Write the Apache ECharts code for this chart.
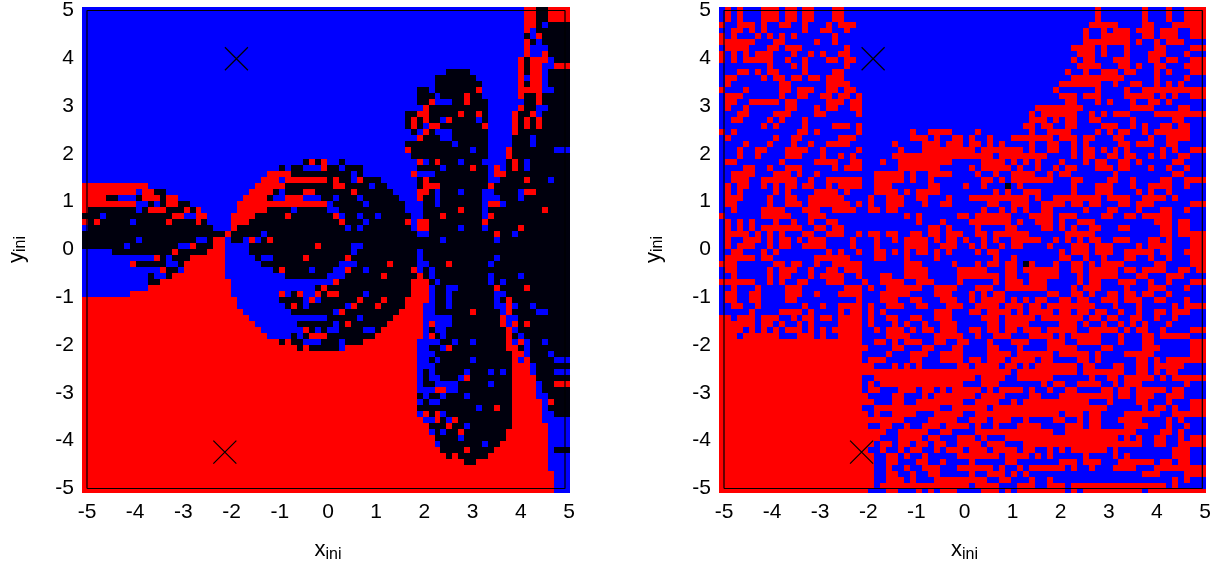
<!DOCTYPE html>
<html><head><meta charset="utf-8">
<script src="https://cdn.jsdelivr.net/npm/echarts@6/dist/echarts.min.js"></script>
<style>html,body{margin:0;padding:0;background:#fff}#c{width:1225px;height:569px}</style>
</head><body><div id="c"></div>
<script>
// Each row (top to bottom) lists colour runs: letter + starting column. B blue, R red, K black.
const leftRows = [
"B0 R74 K76 R78","B0 R74 K76 R78","B0 R74 K76 R78","B0 R74 K76 B77 K78","B0 R74 B75 K76",
"B0 K74 B75 R76 K77","B0 R74 K75 B76 K77","B0 R74 B75 K78","B0 R74 B75 R77 K78","B0 R73 K74 R75 B78 K79",
"B0 R73 K74 R75 B77 R79","B0 K61 B65 R73 K74 R75 B77 K78","B0 K59 B66 R73 B74 R75 B77 K78","B0 K59 B67 R73 K74 R75 B77 K78",
"B0 K56 B58 K59 R66 B67 R73 B77 K79","B0 K56 B59 K60 R64 K65 B67 R73 K74 R76 K77","B0 K56 R58 B59 K62 R64 K65 B68 K74 R76 K77",
"B0 R57 K58 B68 R73 K74 B76 K78","B0 K54 R56 K58 R63 K64 R66 K67 B68 R72 K73 R75 B76 K77",
"B0 K54 R55 K56 R57 K58 B60 R61 K62 B66 K67 B68 R72 K73 R74 K75 R76 K77",
"B0 K54 R55 K56 B57 R58 K60 R67 B68 R72 K73 R74 K75 R76 K77","B0 K55 B56 R57 K58 B59 K62 B68 R72 K73",
"B0 R56 K57 B60 K62 B68 K72 B75 K76","B0 K54 B62 K63 B68 K72 B75 K76","B0 R54 K55 B65 K66 B68 R71 K72 B79","B0 K55 B68 R71 K72",
"B0 K37 R38 K39 R40 B41 K43 B44 R56 B57 K58 R59 K60 B63 K64 B67 K71 R72 K73 B74 K75",
"B0 K33 B34 K35 B37 R40 K41 B43 K44 B47 K56 B60 K61 R65 K66 B68 R69 B70 K71 R72 K73 B74 K75",
"B0 R31 K35 B45 K46 B47 R55 B56 K59 B68 R69 K71","B0 R30 B33 R34 K41 R42 K43 B45 R46 K47 B50 K56 R57 K58 B68 K70 R74 K75 B78 K79",
"R0 B11 R29 K34 R42 K44 B48 K49 B51 K56 R57 K60 R68 K69",
"R0 B9 R10 K12 B14 R28 K32 B33 K34 R37 K39 R45 K46 B52 R56 K58 B59 K60 B63 K64 B67 K69 B73 R74 K76",
"R0 K4 B6 K9 R10 K13 R14 B16 R27 K31 B32 R34 B37 K40 B42 K43 B46 K47 B53 R56 K57 B59 K60 B67 K70 B73 K74",
"R0 B9 K11 B12 K13 R14 K16 B18 R26 B41 K42 B47 K48 B54 K57 B59 K60 B67 R68 B70 K71",
"R0 K1 B9 K10 R11 K14 R17 K18 R19 B20 R26 K31 B35 K36 B41 K43 B54 K57 R63 K64 B67 K68 R77 K78",
"K0 B3 K4 R15 B17 R19 B21 R25 K29 R34 K35 R42 B43 K44 B46 K47 B49 K50 B55 K57 R60 K61 B67 R68 K69",
"R0 K1 R2 K3 B8 K9 R14 K15 R19 K20 B21 R25 K28 R43 K44 B47 K48 R54 B55 R56 K58 R67 K68",
"B0 K1 B22 R25 K26 B44 K45 B46 K47 B55 R56 K58 B63 K64 B67 K68 R73 K74","K0 R24 K25 B30 K31 B56 K58 R69 K70 B72 K73",
"K0 B9 K10 B19 K21 R22 B24 K25 B27 R28 B29 K30 R31 K32 B60 K61 B69 K70","K0 B7 K8 B16 R18 K19 R22 B24 K28 R39 K40 B45 K47",
"B0 K5 R15 K16 R21 B24 K28 B45 K46 B56 K57","B0 R12 K13 B14 K15 R18 B24 K29 B30 K32 R37 K38 R44 K45 B56 K57 B69 K70",
"B0 R8 K9 B14 K16 R17 B24 K30 B43 K46 R51 K52 B56 K58 R61 K62 B68 K69",
"B0 R13 K14 B16 R17 B24 K32 R33 K34 B38 K39 B42 R44 K45 B47 K48 R55 B56 K57 B58 K59",
"B0 K11 B12 K14 R15 B24 K34 B41 K44 R50 K51 R56 K57 B58 K59 B68 K69 B73 K74","B0 K11 R13 B25 R42 K43 R55 K58 B59 K60 B68 K69 B70 K71",
"B0 R11 B25 K39 R40 K41 R55 B58 K59 B61 K63 R69 K70 R74 K75","B0 R8 B25 R33 B34 K35 R36 B37 R39 K40 R41 K43 B47 K48 R55 B58 K59 B61 K62 B69 K71",
"R0 B26 K33 B37 R38 B39 K40 R46 K47 R50 K51 R54 B58 K59 B61 K62 B69 K70 R71 K72",
"R0 B26 K34 R35 K36 B37 K38 B44 R45 K46 R49 K50 R54 B57 K59 B61 K62 B69 R71 B72 K73 B75 K76",
"R0 B27 K35 B42 R43 K44 R53 B57 K59 R65 K66 B70 R71 K72 B76 K78","R0 B28 K41 B46 K47 R52 B57 K62 R70 B71 K73",
"R0 B29 K36 B42 K43 R44 K45 R51 B57 R58 B59 K62 R70 B71 R72 K73 R74 K75","R0 B30 R37 K38 B39 K40 B41 K43 B47 K49 R50 B57 K58 B59 K61 R71 B72 K73",
"R0 B31 K35 B36 K37 R38 K41 R49 B57 R58 K59 B60 K61 R71 K72 B73 K74",
"R0 K33 R34 K35 B37 K40 B43 K44 R47 B56 K60 B62 K63 B65 K66 R71 B72 R73 B74 K75 B77 K78",
"R0 K36 R37 K38 B43 R44 B56 K58 B60 R61 K62 R71 K73 B74 K75","R0 B56 K59 R72 B74 K75 B78 K79",
"R0 B56 K58 B59 K60 B65 K66 R72 B73 R74 K75 B79","R0 B56 K59 R72 B75 K76","R0 B56 K57 B58 K59 B64 K65 B68 K69 B70 K71 R72 B75 K76 B79",
"R0 B56 K57 B58 K60 B63 R64 K65 R72 K76","R0 B56 K57 B59 K63 B68 K69 R72 B76 K77 R79","R0 B56 R59 B61 K63 R72 B76 K77",
"R0 K56 B57 K58 B60 K61 B64 K65 R72 B76 K78","R0 B56 K57 B58 K60 R72 B77 R78 K79","R0 K56 B66 K67 R69 K70 R72 B77 K78",
"R0 B56 R57 K58 R59 B60 K61 R72 B77 K79","R0 B57 R59 K60 B61 R62 K63 R72 B77","R0 K58 R61 K62 B64 K65 R72 B78",
"R0 B58 K59 B60 K61 R63 K64 R71 B78","R0 K59 B63 K64 R71 B78","R0 B59 K60 B67 K68 R70 B78","R0 K60 R64 K65 R69 B78 K79",
"R0 K61 R62 K63 R68 B78","R0 K64 R66 B78","R0 B78","R0 B79","R0 B79","R0 B79","R0 B79"
];
const rightRows = [
"B0 R1 B2 R3 B4 R7 B10 R11 B13 R14 B16 R19 B21 R63 B64 R71 B72 R75 B76 R78","B0 R1 B2 R3 B4 R7 B10 R11 B13 R14 B16 R19 B21 R63 B64 R71 B72 R75 B76 R78",
"B0 R1 B2 R3 B4 R7 B10 R11 B13 R14 B16 R19 B21 R63 B64 R71 B72 R75 B76 R78",
"R0 B1 R3 B6 R7 B8 R10 B12 R14 B15 R18 B19 R20 B23 R62 B67 R71 B73 R76",
"B0 R2 B4 R5 B6 R7 B8 R14 B15 R17 B19 R21 B22 R61 B62 R64 B65 R66 B69 R70 B73 R74 B77 R79",
"R0 B1 R2 B3 R6 B7 R8 B9 R10 B11 R12 B13 R19 B20 R61 B62 R64 B69 R71 B73 R74 B77 R79",
"R0 B6 R9 B11 R16 B17 R19 B20 R61 B69 R70 B71 R73 B74 R75 B78",
"B0 R1 B5 R8 B10 R11 B14 R21 B22 R59 B63 R64 B65 R68 B69 R73 B75 R79",
"R0 B1 R2 B3 R4 B5 R6 B9 R12 B13 R15 B16 R17 B18 R20 B22 R60 B63 R64 B65 R68 B69 R72 B75 R78 B79",
"R0 B1 R2 B3 R4 B9 R11 B12 R14 B15 R18 B20 R21 B23 R59 B60 R61 B63 R66 B69 R72 B74 R75 B77 R79",
"B0 R8 B9 R12 B13 R14 B15 R21 B22 R60 B64 R67 B69 R70 B71 R73 B75 R78",
"B0 R3 B5 R6 B7 R8 B10 R14 B15 R19 B21 R58 B59 R61 B62 R64 B67 R68 B70 R73 B74 R75 B76 R79",
"B0 R1 B3 R7 B8 R9 B11 R12 B14 R15 B17 R18 B21 R59 B68 R73 B74 R78 B79",
"B0 R1 B2 R10 B12 R18 B22 R57 B64 R66 B67 R69 B71 R73 B74 R75 B76 R77 B78",
"R0 B1 R4 B5 R10 B12 R13 B16 R18 B20 R21 B23 R56 B57 R63 B64 R68 B69 R71",
"B0 R1 B4 R10 B11 R13 B15 R17 B19 R20 B22 R23 B24 R57 B60 R61 B64 R68 B73 R74 B75 R76 B77 R79",
"B0 R1 B3 R5 B10 R11 B13 R18 B21 R22 B24 R58 B60 R63 B64 R65 B66 R69 B70 R72 B74 R75 B76",
"B0 R1 B2 R4 B5 R11 B13 R16 B17 R18 B20 R22 B24 R53 B61 R69 B73 R77 B79",
"B0 R3 B5 R9 B12 R16 B18 R23 B24 R52 B53 R54 B60 R62 B63 R64 B65 R66 B69 R73",
"B0 R2 B4 R8 B9 R10 B11 R14 B15 R52 B55 R56 B57 R58 B60 R62 B64 R69 B70 R76 B78",
"B0 R7 B8 R9 B10 R14 B15 R19 B22 R23 B24 R51 B53 R54 B56 R58 B60 R64 B67 R69 B70 R71 B72 R74 B76 R77 B79",
"R0 B1 R2 B3 R13 B15 R16 B17 R23 B24 R32 B33 R35 B39 R43 B44 R52 B53 R55 B59 R63 B64 R65 B66 R67 B69 R71 B72 R73 B79",
"B0 R1 B2 R9 B10 R12 B14 R20 B23 R32 B35 R36 B37 R39 B41 R42 B43 R45 B46 R49 B56 R57 B60 R61 B63 R66 B68 R72 B73 R75 B79",
"B0 R4 B5 R8 B9 R12 B13 R15 B16 R18 B22 R29 B30 R34 B37 R38 B41 R42 B44 R45 B46 R47 B48 R52 B53 R55 B57 R59 B60 R61 B62 R67 B69 R70 B73 R75 B77",
"B0 R3 B4 R6 B8 R11 B15 R17 B18 R23 B24 R30 B31 R34 B43 R44 B51 R52 B53 R55 B57 R59 B60 R61 B63 R64 B65 R66 B67 R68 B69 R74 B75 R76 B77 R79",
"B0 R3 B4 R6 B7 R11 B14 R17 B18 R20 B21 R22 B23 R29 B46 R47 B55 R59 B60 R61 B63 R65 B67 R68 B70 R72 B73 R74 B75 R77 B79",
"B0 R1 B3 R10 B11 R16 B20 R22 B24 R27 B28 R30 B39 R44 B48 R49 B50 R51 B52 R53 B54 R57 B58 R61 B62 R63 B65 R67 B69 R70 B71 R76 B78",
"B0 R4 B6 R8 B9 R11 B14 R19 B20 R21 B24 R30 B37 R42 B43 R44 B49 R50 B51 R53 B54 R56 B57 R58 B60 R63 B66 R67 B69 R72 B73 R75 B76 R78 B79",
"B0 R2 B6 R9 B12 R13 B14 R16 B17 R26 B31 R32 B33 R35 B39 R43 B44 R46 B47 R49 B53 R55 B56 R57 B59 R66 B67 R76 B78",
"B0 R2 B5 R7 B13 R15 B16 R18 B24 R26 B31 R32 B33 R35 B36 R44 B46 R47 B48 R49 B56 R59 B61 R65 B67 R69 B70 R74 B76 R78",
"B0 R1 B2 R3 B5 R7 B8 R9 B10 R11 B13 R14 B16 R18 B19 R20 B24 R26 B29 R35 B37 R41 B42 R44 B45 K48 B49 R50 B51 R59 B60 R63 B66 R69 B70 R72 B76 R78 B79",
"B0 R1 B2 R3 B4 R9 B10 R11 B12 R16 B20 R21 B22 R26 B30 R31 B32 R33 B37 R46 B47 R48 B49 R51 B54 R59 B60 R63 B66 R70 B71 R72 B73 R75 B76",
"B0 R1 B4 R8 B9 R11 B13 R15 B21 R25 B26 R28 B31 R33 B35 R38 B39 R42 B52 R53 B54 R56 B64 R65 B69 R71 B75 R76 B77",
"B0 R1 B3 R8 B9 R11 B14 R15 B22 R23 B24 R25 B26 R28 B31 R34 B35 R37 B39 R45 B47 R49 B52 R54 B58 R59 B61 R62 B64 R67 B69 R70 B73 R79",
"B0 R2 B3 R7 B11 R14 B17 R19 B23 R25 B27 R28 B30 R44 B45 R47 B48 R49 B50 R51 B52 R54 B56 R61 B62 R65 B67 R70 B71 R74 B76 R78 B79",
"R0 B1 R7 B12 R15 B18 R31 B32 R33 B34 R40 B42 R43 B49 R52 B56 R57 B60 R64 B66 R68 B70 R71 B76",
"B0 R1 B2 R3 B4 R5 B6 R9 B10 R12 B13 R15 B16 R18 B20 R33 B34 R37 B38 R42 B49 R50 B51 R53 B56 R57 B58 R60 B63 R73 B76 R77 B79",
"B0 R1 B2 R3 B4 R5 B6 R7 B14 R16 B18 R19 B21 R35 B37 R38 B39 R43 B44 R48 B50 R54 B56 R57 B58 R59 B60 R62 B64 R67 B69 R74 B76 R77 B79",
"B0 R1 B5 R6 B7 R8 B9 R10 B11 R14 B16 R18 B21 R23 B24 R25 B27 R28 B30 R32 B34 R35 B37 R38 B41 R43 B45 R46 B52 R58 B63 R74 B76 R77",
"B0 R1 B2 R4 B7 R8 B9 R10 B12 R13 B14 R15 B18 R22 B23 R26 B27 R29 B30 R31 B35 R36 B37 R38 B40 R41 B42 R44 B45 R46 B47 R49 B54 R56 B57 R58 B59 R60 B61 R62 B64 R66 B69 R72 B74 R75 B76 R79",
"B0 R1 B2 R3 B6 R8 B9 R10 B12 R14 B18 R22 B23 R26 B27 R31 B35 R37 B40 R42 B43 R44 B45 R47 B48 R49 B51 R55 B56 R59 B62 R63 B66 R70 B71 R72 B76 R79",
"B0 R2 B4 R7 B8 R9 B10 R18 B19 R20 B21 R23 B24 R26 B28 R29 B30 R31 B32 R33 B35 R36 B37 R38 B39 R43 B44 R45 B47 R57 B58 R59 B62 R63 B66 R68 B73 R74 B76 R78",
"B0 R1 B6 R7 B9 R16 B22 R26 B28 R31 B32 R36 B37 R46 B47 R49 B50 R57 B59 R61 B62 R64 B65 R68 B70 R72 B73 R75 B76 R79",
"R0 B3 R9 B11 R12 B14 R16 B17 R19 B24 R31 B34 R39 B40 R43 B44 R45 B47 R48 B50 K51 R52 B53 R56 B57 R59 B61 R62 B63 R64 B68 R73 B75 R79",
"B0 R1 B3 R8 B9 R10 B13 R15 B16 R18 B20 R21 B24 R31 B35 R40 B45 R48 B50 R51 B57 R59 B61 R62 B67 R68 B70 R71 B75 R77 B79 R80",
"B0 R2 B3 R8 B9 R10 B12 R15 B16 R17 B21 R23 B24 R27 B29 R31 B35 R40 B47 R48 B50 R52 B57 R60 B61 R62 B67 R70 B72 R75 B78",
"R0 B6 R8 B9 R10 B11 R13 B15 R18 B21 R24 B25 R27 B31 R33 B36 R40 B41 R46 B47 R48 B51 R52 B55 R60 B61 R62 B64 R67 B70 R72 B73 R75 B76 R79",
"B0 R2 B3 R6 B7 R11 B14 R21 B24 R25 B26 R28 B34 R36 B40 R43 B46 R48 B55 R59 B60 R61 B64 R68 B69 R72 B75 R78 B79",
"B0 R1 B3 R5 B7 R11 B14 R16 B17 R20 B24 R27 B32 R36 B39 R42 B43 R44 B45 R46 B48 R55 B57 R59 B61 R62 B63 R65 B67 R68 B70 R71 B73 R75 B76",
"B0 R1 B3 R5 B7 R11 B13 R23 B24 R27 B30 R32 B34 R37 B40 R42 B43 R44 B48 R49 B50 R51 B52 R53 B55 R57 B59 R60 B62 R64 B67 R68 B71 R73 B75 R78 B79",
"B0 R2 B4 R6 B7 R14 B15 R17 B18 R20 B24 R25 B26 R28 B31 R33 B35 R38 B41 R43 B47 R48 B51 R52 B54 R55 B63 R66 B67 R70 B71 R76 B77 R78",
"B0 R5 B6 R10 B14 R15 B16 R20 B21 R22 B24 R25 B26 R27 B28 R36 B39 R42 B44 R45 B49 R50 B51 R52 B56 R57 B59 R60 B62 R63 B65 R67 B68 R70 B71 R73 B75 R76 B79",
"R0 B2 R3 B6 R7 B10 R12 B13 R14 B16 R17 B19 R20 B24 R25 B26 R28 B30 R32 B34 R36 B39 R44 B47 R48 B53 R54 B61 R62 B64 R65 B67 R69 B71 R73 B74 R76 B77",
"R0 B6 R7 B9 R10 B11 R13 B14 R15 B16 R20 B24 R25 B26 R29 B30 R31 B32 R34 B35 R37 B40 R45 B47 R48 B52 R57 B60 R61 B62 R64 B65 R67 B68 R69 B70 R71 B72 R75 B76",
"R0 B4 R5 B6 R7 B8 R9 B10 R11 B14 R15 B16 R17 B18 R19 B24 R26 B27 R28 B31 R32 B33 R34 B36 R37 B40 R42 B44 R45 B47 R48 B50 R51 B54 R55 B60 R62 B67 R68 B69 R70 B72 R74 B75 R79",
"R0 B3 R4 B10 R13 B16 R17 B18 R20 B24 R28 B32 R36 B41 R43 B44 R46 B49 R52 B56 R57 B58 R59 B64 R67 B68 R71 B73 R74 B79",
"R0 B24 R26 B28 R29 B30 R31 B34 R36 B38 R40 B42 R45 B46 R49 B52 R55 B58 R60 B64 R67 B68 R71 B73 R79",
"R0 B25 R29 B31 R34 B36 R39 B41 R45 B47 R50 B51 R55 B60 R64 B66 R71 B74 R79",
"R0 B24 R28 B29 R32 B35 R37 B41 R45 B49 R50 B56 R57 B62 R63 B64 R68 B73 R79",
"R0 B24 R25 B28 R32 B34 R37 B41 R42 B44 R45 B48 R49 B53 R54 B56 R60 B62 R63 B64 R70 B72 R73 B74 R75",
"R0 B26 R29 B30 R31 B32 R33 B34 R40 B42 R43 B47 R48 B50 R51 B52 R53 B60 R61 B63 R66 B68 R70 B72 R73 B78",
"R0 B49 R50 B60 R61 B68 R70 B72 R73 B74 R75 B77",
"R0 B24 R26 B43 R44 B48 R50 B56 R62 B63 R65 B67 R68 B73 R74 B75 R76",
"R0 B24 R25 B26 R27 B41 R44 B47 R54 B55 R56 B58 R60 B64 R66 B67 R68 B71 R78 B79",
"R0 B24 R25 B27 R30 B33 R34 B36 R37 B38 R39 B44 R45 B46 R47 B51 R52 B53 R55 B56 R58 B60 R64 B66 R67 B69 R70 B75 R76 B78",
"R0 B25 R29 B31 R34 B35 R36 B43 R44 B48 R52 B54 R57 B66 R67 B69 R70 B73 R75 B78",
"R0 B26 R29 B31 R33 B41 R43 B47 R49 B50 R51 B62 R65 B66 R70 B72 R75 B76 R79",
"R0 B24 R26 B37 R39 B45 R46 B65 R71 B72 R73 B75 R76 B77 R79",
"R0 B25 R26 B27 R29 B33 R36 B41 R43 B57 R58 B61 R62 B64 R68 B74 R76",
"R0 B31 R35 B40 R42 B45 R46 B49 R51 B52 R56 B58 R60 B61 R62 B64 R67 B71 R75 B76 R77 B78",
"R0 B25 R27 B29 R31 B32 R34 B37 R38 B42 R43 B44 R46 B47 R50 B54 R58 B61 R62 B64 R68 B72 R75 B76 R78 B79",
"R0 B28 R30 B35 R37 B39 R43 B56 R58 B70 R74 B76 R77 B78",
"R0 B27 R30 B34 R35 B37 R40 B43 R44 B45 R48 B67 R68 B69 R70 B71 R73 B75 R77 B78 R79",
"R0 B26 R27 B29 R30 B32 R33 B35 R36 B38 R40 B44 R45 B48 R51 B71 R73 B75 R77",
"R0 B25 R27 B28 R30 B31 R32 B34 R36 B37 R38 B41 R42 B45 R46 B50 R51 B53 R55 B56 R57 B58 R59 B65 R66 B67 R76 B79",
"R0 B26 R28 B30 R31 B32 R34 B35 R40 B47 R48 B52 R53 B54 R55 B56 R61 B62 R66 B67 R68 B69 R76 B79",
"R0 B26 R28 B30 R33 B35 R37 B38 R42 B43 R48 B50 R57 B60 R61 B64 R67 B73 R74 B76 R77 B79",
"R0 B26 R28 B29 R31 B32 R34 B37 R40 B46 R47 B48 R50 B51 R52 B58 R59 B60 R62 B63 R66 B70 R73",
"R0 B26 R28 B30 R32 B33 R35 B37 R42 B43 R45 B48 R49 B50 R51 B52 R71 B74 R78",
"R0 B26 R28 B31 R32 B33 R36 R43 B45 R47 B49 R52 B53 R55 B56 R76 B77 R78 B79",
"R0 B26 R27 B42 R43 B47 R50 B53 R55 B58 R59 B75 R76 B77",
"R0 B25 R28 B30 R33 B34 R35 B36 R37 B40 R44 B47 R48 B49 R50 B58 R59 B60 R61 B71 R72"
];
const tickValues = [-5,-4,-3,-2,-1,0,1,2,3,4,5];
const crossX = [-1.90,-2.14];
const crossY = [3.99,-4.24];

const colours = {B:'#0000ff',R:'#ff0000',K:'#00000d'};
const cols = 82;
const xEdge = i => i >= cols ? 5.03 : -5.104 + i*0.12396;
const yEdge = r => r === 0 ? 5.083 : (r >= 82 ? -5.098 : 5.02 - (r-1)*0.12526);

function runs(rows){
  const out = [];
  rows.forEach((row,r)=>{
    const t = row.trim().split(/\s+/);
    t.forEach((tok,j)=>{
      const c0 = +tok.slice(1);
      const c1 = j+1<t.length ? +t[j+1].slice(1) : cols;
      out.push([xEdge(c0),xEdge(c1),yEdge(r),yEdge(r+1),'BRK'.indexOf(tok[0])]);
    });
  });
  return out;
}
function renderCell(params,api){
  const a = api.coord([api.value(0),api.value(2)]);
  const b = api.coord([api.value(1),api.value(3)]);
  const x = Math.round(a[0]), y = Math.round(a[1]);
  return {type:'rect',shape:{x:x,y:y,width:Math.round(b[0])-x,height:Math.round(b[1])-y},
    style:{fill:colours['BRK'[api.value(4)]]}};
}
const font = 'Liberation Sans';
const rich = {a:{fontFamily:font,fontSize:22,color:'#000'},s:{fontFamily:font,fontSize:16,color:'#000',verticalAlign:'bottom',padding:[9,0,0,0]}};
const axis = (name,gap,extra)=>Object.assign({type:'value',min:-5,max:5,interval:1,splitLine:{show:false},
  axisLine:{show:false},axisTick:{show:false},
  axisLabel:{fontFamily:font,fontSize:21,color:'#000',margin:13,customValues:tickValues},
  name:name,nameLocation:'middle',nameGap:gap,nameTextStyle:{rich:rich}},extra||{});
function panel(i,rows,frameRight){
  const frame = [[-5,-5],[frameRight,-5],[frameRight,5],[-5,5],[-5,-5]];
  return [
    {type:'custom',xAxisIndex:i,yAxisIndex:i,data:runs(rows),renderItem:renderCell,silent:true,z:2,
      encode:{x:[0,1],y:[2,3]},progressive:0,animation:false},
    {type:'line',xAxisIndex:i,yAxisIndex:i,data:frame,showSymbol:false,symbol:'none',clip:false,z:5,silent:true,
      lineStyle:{color:'#000',width:1.2},animation:false},
    {type:'scatter',xAxisIndex:i,yAxisIndex:i,data:crossX.map((x,k)=>[x,crossY[k]]),z:6,silent:true,
      symbol:'path://M0 0L10 10M10 0L0 10',symbolSize:23,
      itemStyle:{color:'none',borderColor:'#000',borderWidth:1.2,opacity:1},animation:false}
  ];
}
const chart = echarts.init(document.getElementById('c'),null,{renderer:'canvas'});
chart.setOption({
  animation:false,
  grid:[{left:87,top:9.5,width:482,height:479},{left:724,top:9.5,width:481,height:479}],
  xAxis:[axis('{a|x}{s|ini}',49,{gridIndex:0}),axis('{a|x}{s|ini}',49,{gridIndex:1})],
  yAxis:[axis('{a|y}{s|ini}',58,{gridIndex:0,nameRotate:90}),axis('{a|y}{s|ini}',58,{gridIndex:1,nameRotate:90})],
  series:panel(0,leftRows,4.917).concat(panel(1,rightRows,4.944))
});
</script></body></html>
